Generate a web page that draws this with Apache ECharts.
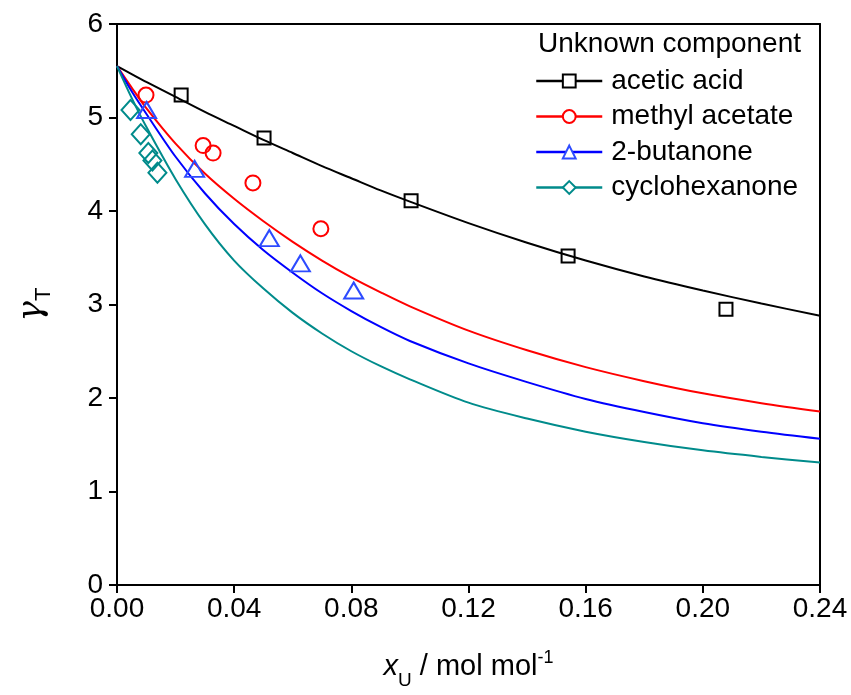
<!DOCTYPE html>
<html>
<head>
<meta charset="utf-8">
<script src="https://cdn.jsdelivr.net/npm/echarts@6/dist/echarts.min.js"></script>
<style>
html,body{margin:0;padding:0;background:#fff;overflow:hidden;}
#chart{width:851px;height:695px;}
</style>
</head>
<body>
<div id="chart"></div>
<script>
// ---- data ----
const seriesNames = ['acetic acid', 'methyl acetate', '2-butanone', 'cyclohexanone'];
const legendTitle = 'Unknown component';
const xTicks = [0, 0.04, 0.08, 0.12, 0.16, 0.20, 0.24];
const yTicks = [0, 1, 2, 3, 4, 5, 6];

// measured points [x_U, gamma_T]
const aceticPts = [[0.0219, 5.24], [0.0502, 4.78], [0.1004, 4.11], [0.1540, 3.52], [0.2079, 2.95]];
const methylPts = [[0.0099, 5.24], [0.0294, 4.70], [0.0328, 4.62], [0.0464, 4.30], [0.0696, 3.81]];
const butanonePts = [[0.0101, 5.08], [0.0265, 4.45], [0.0520, 3.71], [0.0626, 3.44], [0.0808, 3.15]];
const cyclohexPts = [[0.0046, 5.08], [0.0081, 4.82], [0.0107, 4.62], [0.0121, 4.54], [0.0138, 4.41]];

// model curves
const curveX = [0, 0.005, 0.01, 0.02, 0.03, 0.04, 0.05, 0.06, 0.07, 0.08, 0.09, 0.10, 0.12, 0.14, 0.16, 0.18, 0.20, 0.22, 0.24];
const aceticCurve = [5.55, 5.465, 5.38, 5.22, 5.06, 4.91, 4.76, 4.62, 4.48, 4.35, 4.22, 4.10, 3.87, 3.66, 3.47, 3.30, 3.15, 3.01, 2.88];
const methylCurve = [5.55, 5.32, 5.10, 4.72, 4.40, 4.13, 3.89, 3.67, 3.47, 3.29, 3.13, 2.98, 2.72, 2.51, 2.33, 2.18, 2.05, 1.945, 1.855];
const butanoneCurve = [5.55, 5.28, 5.04, 4.58, 4.19, 3.86, 3.58, 3.34, 3.12, 2.93, 2.76, 2.61, 2.37, 2.17, 1.99, 1.85, 1.73, 1.64, 1.565];
const cyclohexCurve = [5.55, 5.21, 4.90, 4.34, 3.86, 3.47, 3.17, 2.91, 2.69, 2.50, 2.34, 2.20, 1.95, 1.78, 1.64, 1.53, 1.44, 1.37, 1.31];

// ---- styling ----
const lineColors = ['#000000', '#ff0000', '#0000ff', '#008b8b'];
const markColors = ['#000000', '#ff0000', '#2d4bff', '#008b8b'];
const symbols = ['rect', 'circle', 'triangle', 'diamond'];
const symbolSizes = [13, 15, [19, 16], [18, 20]];
const pts = [aceticPts, methylPts, butanonePts, cyclohexPts];
const curves = [aceticCurve, methylCurve, butanoneCurve, cyclohexCurve];

const FONT = 'Liberation Sans, Arial, sans-serif';
const series = [];
for (let i = 0; i < 4; i++) {
  series.push({
    name: seriesNames[i],
    type: 'line',
    smooth: 0.3,
    symbol: symbols[i],
    symbolSize: 12,
    showSymbol: false,
    data: curveX.map((x, k) => [x, curves[i][k]]),
    lineStyle: { color: lineColors[i], width: 2 },
    itemStyle: { color: '#fff', borderColor: markColors[i], borderWidth: 2 },
    z: 2
  });
}
for (let i = 0; i < 4; i++) {
  series.push({
    name: seriesNames[i],
    type: 'scatter',
    symbol: symbols[i],
    symbolSize: symbolSizes[i],
    data: pts[i],
    itemStyle: { color: 'rgba(255,255,255,0)', borderColor: markColors[i], borderWidth: 2, opacity: 1 },
    z: 3
  });
}

const chart = echarts.init(document.getElementById('chart'), null, { renderer: 'canvas', width: 851, height: 695 });
chart.setOption({
  animation: false,
  backgroundColor: '#fff',
  textStyle: { fontFamily: FONT, color: '#000' },
  grid: { left: 117, top: 24, width: 703, height: 566, containLabel: false },
  title: {
    text: legendTitle,
    left: 538, top: 30, padding: 0,
    textStyle: { fontFamily: FONT, fontSize: 28, fontWeight: 'normal', color: '#000' }
  },
  legend: {
    data: seriesNames,
    orient: 'vertical',
    left: 535, top: 67, padding: 0,
    itemWidth: 66, itemHeight: 16, itemGap: 7.5,
    lineStyle: { width: 2.5 },
    textStyle: { fontFamily: FONT, fontSize: 28, color: '#000', padding: [0, 0, 0, 4] },
    selectedMode: false
  },
  xAxis: [{
    type: 'value', min: 0, max: 0.24, interval: 0.04,
    axisLine: { onZero: false, lineStyle: { color: '#000', width: 2 } },
    axisTick: { show: true, inside: false, length: 8, lineStyle: { color: '#000', width: 2 } },
    axisLabel: { fontFamily: FONT, fontSize: 28, color: '#000', margin: 10, formatter: v => v.toFixed(2) },
    splitLine: { show: false },
    name: '{i|x}{sub|U}{n| / mol mol}{sup|-1}',
    nameLocation: 'middle', nameGap: 64,
    nameTextStyle: {
      rich: {
        i: { fontFamily: FONT, fontSize: 29, fontStyle: 'italic', color: '#000', verticalAlign: 'bottom', lineHeight: 32 },
        n: { fontFamily: FONT, fontSize: 29, color: '#000', verticalAlign: 'bottom', lineHeight: 32 },
        sub: { fontFamily: FONT, fontSize: 19, color: '#000', verticalAlign: 'bottom', lineHeight: 22, padding: [0, 0, -9, 0] },
        sup: { fontFamily: FONT, fontSize: 18, color: '#000', verticalAlign: 'top', lineHeight: 20, padding: [0, 0, 12, 0] }
      }
    }
  }, {
    type: 'value', position: 'top', min: 0, max: 0.24,
    axisLine: { onZero: false, lineStyle: { color: '#000', width: 2 } },
    axisTick: { show: false }, axisLabel: { show: false }, splitLine: { show: false }
  }],
  yAxis: [{
    type: 'value', min: 0, max: 6, interval: 1,
    axisLine: { show: true, onZero: false, lineStyle: { color: '#000', width: 2 } },
    axisTick: { show: true, inside: false, length: 8, lineStyle: { color: '#000', width: 2 } },
    axisLabel: { fontFamily: FONT, fontSize: 28, color: '#000', margin: 14 },
    splitLine: { show: false },
    name: '{i|γ}{sub|T}',
    nameLocation: 'middle', nameGap: 68, nameRotate: 90,
    nameTextStyle: {
      rich: {
        i: { fontFamily: 'DejaVu Serif, serif', fontSize: 34, fontStyle: 'italic', color: '#000', verticalAlign: 'bottom', lineHeight: 36 },
        sub: { fontFamily: FONT, fontSize: 22, color: '#000', verticalAlign: 'bottom', lineHeight: 24, padding: [0, 0, -6, 0] }
      }
    }
  }, {
    type: 'value', position: 'right', min: 0, max: 6,
    axisLine: { show: true, onZero: false, lineStyle: { color: '#000', width: 2 } },
    axisTick: { show: false }, axisLabel: { show: false }, splitLine: { show: false }
  }],
  series: series
});
</script>
</body>
</html>
